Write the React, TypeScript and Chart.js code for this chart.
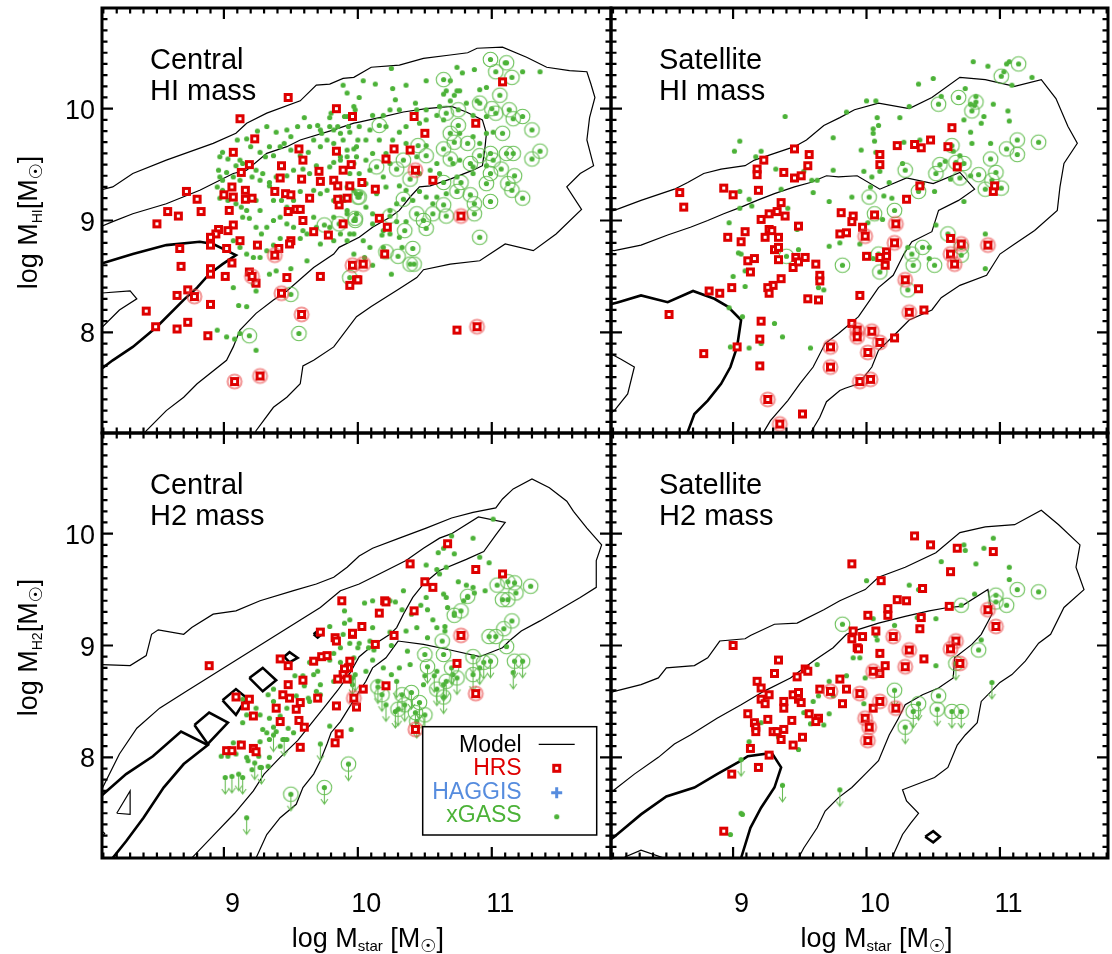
import React, { useEffect, useRef } from 'react';
import { Chart, registerables } from 'chart.js';

Chart.register(...registerables);

type Pt = [number, number];

const FONT = '"Liberation Sans", Arial, Helvetica, sans-serif';
const SYMBOL_FONT = '"DejaVu Sans", "Liberation Sans", sans-serif';
const RED = 'rgb(222,0,0)';
const GREEN = 'rgb(76,178,56)';
const BLUE = 'rgb(86,140,222)';
const RING_GREEN = 'rgba(92,186,72,0.9)';
const ARROW_GREEN = 'rgb(104,188,84)';
const RING_RED = 'rgba(234,72,72,0.55)';

// axis ranges and labelled ticks
const X_RANGE_LEFT: Pt = [8.09, 11.89];
const X_RANGE_RIGHT: Pt = [8.085, 11.81];
const Y_RANGE: Pt = [7.1, 10.9];
const X_TICK_LABELS = [9, 10, 11];
const Y_TICK_LABELS = [8, 9, 10];
const LEGEND_LABELS = ['Model', 'HRS', 'HAGGIS', 'xGASS'];
const LEGEND_COLORS = ['#000', RED, BLUE, GREEN];

// ---------------- Central, HI mass ----------------
const cHiHrs: Pt[] = [
  [9.48,10.10],[9.12,9.91],[9.84,10.00],[9.96,9.93],[9.23,9.73],[9.07,9.61],[9.56,9.64],[9.59,9.54],[9.19,9.50],[9.43,9.49],
  [9.13,9.43],[9.84,9.62],[9.95,9.50],[9.89,9.45],[9.71,9.44],[9.72,9.35],[9.42,9.38],[9.58,9.37],[9.82,9.36],[9.85,9.31],
  [9.06,9.30],[8.72,9.26],[9.16,9.27],[9.94,9.31],[9.00,9.23],[9.38,9.26],[9.46,9.24],[9.50,9.23],[9.64,9.20],[9.07,9.21],
  [9.16,9.19],[9.21,9.20],[9.92,9.20],[8.80,9.19],[8.58,9.08],[8.66,9.04],[8.83,9.08],[9.04,9.09],[8.50,8.97],[9.54,9.10],
  [9.57,9.10],[9.48,9.08],[9.59,9.00],[9.07,8.96],[9.03,8.91],[8.96,8.92],[8.94,8.88],[8.90,8.85],[8.90,8.78],[9.12,8.82],
  [9.25,8.78],[9.50,8.82],[9.49,8.79],[9.67,8.90],[9.78,8.87],[9.86,9.14],[9.85,9.19],[9.89,8.97],[8.67,8.75],[9.02,8.75],
  [9.41,8.75],[8.68,8.59],[8.90,8.57],[8.90,8.52],[9.06,8.62],[9.01,8.50],[9.19,8.54],[9.24,8.44],[9.47,8.49],[9.72,8.50],
  [9.94,8.42],[9.99,8.47],[8.73,8.38],[8.65,8.33],[8.90,8.25],[8.42,8.19],[8.49,8.05],[8.65,8.03],[8.73,8.09],[8.88,7.97],
  [11.08,10.24],[10.42,9.93],[10.88,9.87],[10.50,9.78],[10.27,9.64],[10.39,9.63],[10.21,9.55],[10.56,9.36],[10.03,9.34],[10.13,9.28],
  [10.16,9.02],[10.22,8.94],[10.20,8.70],[10.00,8.47],[10.74,8.02],
];
const cHiHrsRinged: Pt[] = [
  [9.38,8.69],[9.21,8.50],[9.96,8.60],[9.43,8.35],[8.78,8.32],[9.58,8.16],[9.08,7.56],[9.27,7.61],[10.43,9.45],[10.77,9.04],
  [10.04,8.61],[10.89,8.05],
];
const cHiGass: Pt[] = [
  [9.92,10.14],[9.98,9.99],[9.80,9.96],[9.79,9.92],[9.90,9.93],[9.60,9.92],[9.55,9.84],[9.47,9.81],[9.39,9.79],[9.32,9.84],
  [9.25,9.80],[9.17,9.73],[9.10,9.72],[9.20,9.66],[9.34,9.66],[9.50,9.75],[9.64,9.84],[9.70,9.85],[9.72,9.81],[9.73,9.78],
  [9.79,9.84],[9.82,9.81],[9.85,9.84],[9.93,9.84],[8.99,9.61],[8.97,9.57],[9.03,9.55],[9.12,9.54],[9.09,9.49],[9.14,9.51],
  [9.27,9.61],[9.31,9.57],[9.37,9.58],[9.42,9.66],[9.45,9.69],[9.50,9.63],[9.57,9.58],[9.63,9.61],[9.67,9.72],[9.72,9.66],
  [9.77,9.72],[9.82,9.69],[9.89,9.72],[9.97,9.64],[10.00,9.72],[8.96,9.45],[9.02,9.43],[8.97,9.39],[8.99,9.36],[9.07,9.39],
  [9.12,9.36],[9.24,9.45],[9.29,9.42],[9.21,9.39],[9.27,9.36],[9.34,9.34],[9.39,9.39],[9.47,9.40],[9.52,9.45],[9.59,9.46],
  [9.64,9.42],[9.69,9.49],[9.79,9.48],[9.82,9.52],[9.87,9.54],[9.92,9.57],[9.99,9.57],[8.95,9.30],[8.99,9.27],[8.97,9.20],
  [9.03,9.18],[9.09,9.15],[9.13,9.12],[9.17,9.09],[9.24,9.18],[9.27,9.09],[9.34,9.31],[9.37,9.18],[9.43,9.18],[9.47,9.12],
  [9.52,9.18],[9.57,9.26],[9.67,9.27],[9.72,9.24],[9.77,9.27],[9.82,9.18],[9.87,9.21],[9.97,9.27],[10.02,9.24],[9.14,9.03],
  [9.19,9.02],[9.24,8.94],[9.28,8.88],[9.32,8.94],[9.37,9.00],[9.42,9.03],[9.47,8.97],[9.52,8.94],[9.59,8.91],[9.67,9.03],
  [9.69,8.94],[9.79,8.94],[9.82,9.03],[9.92,9.06],[9.97,9.00],[9.07,8.82],[9.12,8.76],[9.17,8.70],[9.22,8.67],[9.27,8.67],
  [9.32,8.73],[9.37,8.78],[9.42,8.84],[9.57,8.84],[9.62,8.88],[9.72,8.79],[9.82,8.82],[9.87,8.88],[9.92,8.82],[9.97,8.88],
  [9.07,8.40],[9.11,8.24],[9.17,8.23],[9.22,8.43],[9.24,8.37],[9.34,8.52],[9.39,8.55],[9.50,8.57],[9.62,8.64],[8.95,8.02],
  [9.02,7.96],[9.08,7.94],[9.24,7.84],[9.12,7.99],
  [11.10,10.41],[11.23,10.33],[11.36,10.33],[10.25,10.36],[10.87,10.35],[10.74,10.37],[10.78,10.32],[9.89,10.21],[10.04,10.25],[10.13,10.22],
  [10.26,10.18],[10.36,10.21],[10.51,10.25],[10.69,10.25],[10.74,10.16],[10.66,10.16],[10.64,10.13],[10.72,10.12],[10.76,10.16],[10.91,10.17],
  [10.96,10.19],[10.28,10.08],[10.43,10.05],[10.01,10.10],[9.97,10.02],[9.92,9.93],[10.11,9.94],[10.19,9.94],[10.24,9.99],[10.31,9.99],
  [10.44,9.99],[10.51,9.99],[10.61,10.02],[10.81,10.05],[10.89,10.07],[10.96,9.93],[10.86,9.94],[10.69,10.07],[9.87,9.78],[9.94,9.79],
  [10.01,9.84],[10.09,9.81],[10.21,9.84],[10.31,9.79],[10.36,9.84],[10.46,9.87],[10.51,9.90],[10.59,9.94],[10.64,9.90],[10.76,9.78],
  [10.86,9.75],[10.91,9.69],[10.96,9.78],[11.01,9.79],[10.51,9.67],[10.36,9.69],[10.26,9.72],[10.16,9.72],[10.06,9.72],[9.99,9.66],
  [9.92,9.63],[10.11,9.60],[10.21,9.60],[9.87,9.57],[9.97,9.51],[10.06,9.54],[10.24,9.51],[10.44,9.57],[10.59,9.51],[10.71,9.51],
  [10.76,9.54],[10.96,9.49],[10.86,9.48],[9.94,9.42],[10.01,9.42],[10.09,9.45],[10.19,9.39],[10.46,9.42],[10.54,9.45],[10.61,9.42],
  [10.74,9.39],[10.86,9.42],[9.92,9.30],[9.99,9.24],[10.06,9.33],[10.14,9.24],[10.21,9.30],[10.31,9.31],[10.36,9.27],[10.46,9.26],
  [10.51,9.21],[10.59,9.21],[10.66,9.24],[9.90,9.18],[9.92,9.09],[9.99,9.06],[10.06,9.12],[10.11,9.06],[10.24,9.09],[10.29,9.15],
  [10.41,9.18],[10.56,9.15],[10.11,8.97],[10.19,8.91],[10.29,8.99],[10.36,8.99],[10.24,8.88],[10.31,8.85],[9.94,8.88],[10.04,8.82],
  [10.09,8.76],[10.18,8.87],[10.19,8.76],[10.33,8.76],[10.25,8.52],[10.11,8.60],[10.05,8.67],[9.97,8.70],
];
const cHiGassRinged: Pt[] = [
  [9.75,8.96],[9.86,8.97],[9.98,9.02],[9.50,8.34],[9.19,7.97],[9.56,7.99],[9.94,8.49],[10.00,9.21],
  [10.99,10.44],[11.11,10.41],[11.03,10.33],[11.15,10.28],[10.64,10.26],[11.06,10.12],[10.66,9.96],[10.75,9.99],[10.91,10.05],[11.00,10.00],
  [11.03,9.96],[11.13,9.99],[11.16,9.91],[11.23,9.93],[11.30,9.81],[10.16,9.85],[10.75,9.85],[10.69,9.78],[10.82,9.69],[11.08,9.78],
  [10.72,9.70],[10.64,9.64],[10.45,9.67],[10.14,9.48],[10.34,9.54],[10.51,9.58],[10.69,9.55],[10.84,9.51],[10.91,9.58],[10.99,9.60],
  [11.01,9.54],[11.11,9.60],[11.16,9.60],[11.30,9.55],[11.36,9.62],[10.29,9.46],[10.39,9.37],[10.64,9.34],[10.77,9.34],[10.99,9.42],
  [11.07,9.46],[11.17,9.40],[11.12,9.33],[10.96,9.33],[11.15,9.27],[11.23,9.20],[10.74,9.26],[10.84,9.23],[10.87,9.15],[10.99,9.17],
  [10.34,9.19],[10.01,9.21],[10.64,9.14],[10.44,9.06],[10.56,9.06],[10.66,9.04],[10.87,9.06],[10.24,9.04],[9.98,9.00],[10.49,9.00],
  [10.51,8.93],[10.35,8.91],[10.91,8.85],[10.21,8.72],[10.30,8.68],[10.39,8.61],[10.42,8.61],[10.41,8.75],
];
const cHiOuter: Pt[] = [
  [8.0,9.22],[8.07,9.27],[8.17,9.30],[8.32,9.42],[8.57,9.54],[8.92,9.69],[9.09,9.78],[9.17,9.87],[9.32,9.96],[9.57,10.07],
  [9.69,10.21],[9.79,10.22],[9.89,10.27],[9.97,10.28],[10.10,10.37],[10.31,10.39],[10.49,10.45],[10.69,10.48],[10.82,10.50],[10.89,10.54],
  [11.08,10.55],[11.26,10.46],[11.41,10.37],[11.58,10.34],[11.71,10.33],[11.74,10.22],[11.77,10.10],[11.73,9.92],[11.71,9.72],[11.76,9.49],
  [11.66,9.42],[11.56,9.30],[11.67,9.10],[11.48,8.88],[11.31,8.73],[11.10,8.79],[10.91,8.64],[10.69,8.61],[10.49,8.56],[10.44,8.49],
  [10.31,8.39],[10.10,8.23],[9.99,8.14],[9.82,7.87],[9.67,7.75],[9.59,7.70],[9.57,7.54],[9.47,7.42],[9.37,7.33],[9.24,7.12],[9.22,7.05],
];
const cHiMiddle: Pt[] = [
  [8.0,8.91],[8.07,8.94],[8.17,8.99],[8.32,9.06],[8.57,9.15],[8.82,9.27],[9.07,9.42],[9.17,9.45],[9.32,9.60],[9.47,9.66],
  [9.57,9.72],[9.82,9.81],[9.97,9.87],[10.01,9.88],[10.16,9.92],[10.34,9.97],[10.51,10.00],[10.70,10.02],[10.81,9.97],[10.93,9.90],
  [10.96,9.78],[10.95,9.66],[10.93,9.49],[10.86,9.45],[10.69,9.37],[10.54,9.31],[10.46,9.30],[10.39,9.21],[10.31,9.09],[10.24,9.03],
  [10.11,8.94],[10.01,8.85],[9.86,8.76],[9.82,8.70],[9.67,8.58],[9.47,8.37],[9.37,8.29],[9.24,8.17],[9.12,8.02],[9.07,7.87],
  [9.02,7.75],[8.80,7.54],[8.70,7.42],[8.57,7.30],[8.42,7.12],[8.38,7.05],
];
const cHiThick: Pt[] = [
  [8.0,8.62],[8.07,8.61],[8.32,8.70],[8.57,8.78],[8.82,8.81],[8.92,8.79],[9.09,8.69],[8.99,8.61],[8.89,8.52],[8.80,8.40],
  [8.70,8.29],[8.50,8.05],[8.32,7.87],[8.17,7.75],[8.07,7.66],[8.0,7.60],
];
const cHiLoop: Pt[] = [[8.0,8.35],[8.07,8.35],[8.30,8.37],[8.35,8.30],[8.22,8.20],[8.07,8.02],[8.0,7.96]];

// ---------------- Satellite, HI mass ----------------
const sHiHrs: Pt[] = [
  [9.46,9.64],[9.57,9.59],[9.23,9.54],[9.18,9.46],[9.18,9.41],[9.38,9.43],[9.46,9.38],[9.51,9.40],[9.56,9.49],[8.93,9.29],
  [9.00,9.23],[9.19,9.27],[8.60,9.25],[8.63,9.12],[9.36,9.16],[9.21,9.01],[9.27,9.06],[9.33,9.08],[9.39,9.04],[9.09,8.90],
  [8.96,8.85],[9.06,8.81],[9.24,8.85],[9.27,8.92],[9.29,8.91],[9.34,8.85],[9.49,8.95],[9.31,8.74],[9.34,8.76],[9.34,8.65],
  [9.16,8.66],[9.11,8.64],[9.45,8.58],[9.47,8.67],[9.54,8.67],[9.49,8.63],[9.62,8.61],[9.13,8.54],[9.36,8.48],[9.30,8.42],
  [9.26,8.40],[9.27,8.35],[9.65,8.51],[9.65,8.46],[8.99,8.40],[8.90,8.35],[8.82,8.37],[9.56,8.30],[9.64,8.29],[9.81,9.07],
  [9.90,9.04],[9.80,8.88],[9.85,8.89],[8.52,8.16],[9.21,8.10],[9.20,7.94],[9.03,7.87],[8.78,7.81],[9.20,7.70],[9.89,8.08],
  [9.52,7.27],
  [10.64,9.83],[10.23,9.67],[10.36,9.68],[10.41,9.65],[10.48,9.72],[10.61,9.66],[10.10,9.59],[10.10,9.50],[10.68,9.48],[10.40,9.31],
  [10.30,9.19],[10.95,9.26],[10.96,9.31],[9.89,8.99],[9.97,8.94],[10.06,9.05],[10.00,8.68],[10.15,8.72],[10.15,8.68],[10.10,8.67],
  [10.14,8.60],[10.63,8.84],[9.95,8.33],[10.39,8.39],[10.43,8.20],[10.21,7.95],
];
const sHiHrsRinged: Pt[] = [
  [9.73,7.87],[9.73,7.69],[9.26,7.40],[9.35,7.18],[9.99,8.86],[10.22,8.97],[10.21,8.80],[10.71,8.79],[10.63,8.70],[10.66,8.61],
  [10.91,8.78],[10.29,8.47],[10.32,8.18],[9.93,8.02],[9.93,7.96],[10.04,8.01],[10.10,7.91],[10.01,7.82],[9.95,7.56],[10.03,7.58],
];
const sHiGass: Pt[] = [
  [9.39,9.93],[9.85,9.97],[9.75,9.74],[9.05,9.71],[9.01,9.62],[9.21,9.62],[9.17,9.57],[9.32,9.46],[9.53,9.44],[9.75,9.45],
  [9.59,9.36],[9.63,9.36],[9.05,9.26],[9.36,9.28],[9.60,9.25],[9.12,9.19],[9.14,9.13],[9.05,9.11],[9.41,9.11],[9.72,9.17],
  [8.97,8.98],[9.90,8.98],[9.48,8.92],[9.80,8.80],[9.72,8.77],[9.04,8.71],[9.06,8.70],[9.49,8.74],[9.33,8.73],[9.09,8.55],
  [9.00,8.50],[9.09,8.41],[9.64,8.40],[9.68,8.38],[9.63,8.29],[8.97,8.22],[9.07,8.14],[9.31,8.08],[9.37,7.96],[8.98,7.87],
  [9.12,7.86],[9.21,7.90],[9.58,7.86],
  [10.80,10.42],[10.91,10.38],[11.05,10.40],[11.07,10.42],[11.03,10.33],[11.09,10.21],[11.24,10.28],[10.39,10.22],[10.50,10.27],[10.00,10.07],
  [10.07,10.07],[10.32,10.02],[10.56,10.11],[10.74,10.18],[10.08,9.92],[10.25,9.92],[10.05,9.82],[10.09,9.85],[10.05,9.78],[10.78,10.04],
  [10.81,10.03],[10.82,10.11],[10.95,10.04],[11.06,9.98],[11.07,9.89],[10.73,9.90],[10.88,9.93],[10.86,9.87],[10.78,9.79],[10.79,9.69],
  [10.93,9.69],[10.06,9.71],[10.28,9.70],[9.96,9.63],[10.07,9.61],[10.40,9.72],[10.65,9.62],[10.70,9.58],[10.59,9.53],[10.27,9.51],
  [9.98,9.44],[10.04,9.39],[10.10,9.44],[10.17,9.34],[10.63,9.37],[10.78,9.40],[10.51,9.26],[10.03,9.30],[9.89,9.21],[10.13,9.22],
  [10.19,9.20],[10.73,9.17],[10.42,9.33],[10.12,9.01],[10.01,8.98],[10.52,8.96],[9.95,8.79],[10.31,8.76],[10.47,8.76],[10.05,8.66],
  [10.47,8.66],[10.89,8.88],[10.89,8.57],
];
const sHiGassRinged: Pt[] = [
  [9.82,8.60],[9.40,8.68],[11.14,10.40],[11.01,10.29],[10.54,10.04],[10.69,10.10],[10.82,10.06],[10.79,9.98],[11.13,9.72],[11.29,9.70],
  [11.13,9.59],[11.05,9.64],[10.93,9.55],[10.64,9.67],[10.73,9.51],[10.67,9.52],[10.55,9.50],[10.52,9.42],[10.29,9.45],[10.70,9.38],
  [10.84,9.41],[10.97,9.43],[10.94,9.36],[10.89,9.28],[11.01,9.29],[10.39,9.26],[10.06,9.06],[10.21,9.09],[10.61,8.88],[10.71,8.76],
  [10.71,8.69],[10.42,8.76],[10.34,8.70],[10.35,8.60],[10.51,8.60],[10.09,8.70],[10.10,8.54],[10.31,8.38],[10.02,9.21],
];
const sHiOuter: Pt[] = [
  [8.05,9.08],[8.11,9.09],[8.31,9.18],[8.56,9.28],[8.66,9.34],[8.78,9.42],[8.91,9.46],[9.09,9.49],[9.16,9.54],[9.31,9.60],
  [9.46,9.66],[9.55,9.72],[9.68,9.85],[9.80,9.92],[9.91,9.99],[10.09,10.05],[10.32,10.00],[10.49,10.10],[10.70,10.28],[10.89,10.26],
  [11.11,10.20],[11.31,10.26],[11.42,10.09],[11.51,9.84],[11.58,9.69],[11.48,9.51],[11.45,9.30],[11.43,9.09],[11.26,8.91],[11.11,8.79],
  [11.00,8.70],[10.90,8.51],[10.70,8.42],[10.56,8.31],[10.49,8.20],[10.32,8.11],[10.22,7.99],[10.09,7.84],[10.04,7.69],[9.94,7.54],
  [9.84,7.50],[9.80,7.48],[9.70,7.38],[9.65,7.24],[9.59,7.12],[9.57,7.05],
];
const sHiMiddle: Pt[] = [
  [8.05,8.74],[8.11,8.73],[8.31,8.78],[8.51,8.87],[8.68,8.94],[8.81,9.00],[8.93,9.06],[9.06,9.12],[9.18,9.18],[9.31,9.24],
  [9.46,9.30],[9.58,9.34],[9.70,9.40],[9.79,9.39],[9.93,9.40],[10.10,9.28],[10.30,9.38],[10.50,9.33],[10.70,9.43],[10.81,9.28],
  [10.69,9.18],[10.54,9.09],[10.49,8.90],[10.34,8.81],[10.28,8.70],[10.20,8.51],[10.09,8.40],[9.94,8.14],[9.79,7.99],[9.69,7.90],
  [9.60,7.69],[9.50,7.54],[9.41,7.39],[9.28,7.21],[9.23,7.11],[9.20,7.05],
];
const sHiThick: Pt[] = [
  [8.05,8.24],[8.14,8.27],[8.31,8.33],[8.51,8.27],[8.70,8.37],[8.86,8.30],[8.96,8.23],[9.06,8.11],[9.03,7.87],[8.98,7.69],
  [8.91,7.54],[8.81,7.39],[8.71,7.27],[8.66,7.11],[8.64,7.05],
];
const sHiLoop: Pt[] = [[8.05,7.83],[8.16,7.76],[8.26,7.69],[8.21,7.45],[8.11,7.30],[8.05,7.25]];

// ---------------- Central, H2 mass ----------------
const cH2Hrs: Pt[] = [
  [9.88,9.40],[8.89,8.82],[9.72,9.12],[9.83,9.07],[9.84,9.04],[9.96,9.10],[9.73,8.90],[9.77,8.91],[9.67,8.86],[9.42,8.88],
  [9.48,8.82],[9.94,8.86],[9.93,8.80],[9.90,8.79],[9.89,8.74],[9.85,8.70],[9.92,8.70],[9.48,8.65],[9.59,8.69],[9.44,8.56],
  [9.49,8.53],[9.09,8.54],[9.19,8.52],[9.16,8.46],[9.57,8.49],[9.54,8.43],[9.22,8.37],[9.39,8.44],[9.42,8.32],[9.70,8.53],
  [9.84,8.46],[9.56,8.33],[9.60,8.27],[9.86,8.21],[9.83,8.13],[9.02,8.06],[9.06,8.06],[9.13,8.11],[9.22,8.08],[9.24,8.05],
  [9.57,8.09],[9.99,8.45],
  [10.67,9.91],[10.39,9.73],[10.88,9.68],[11.08,9.64],[10.50,9.57],[10.56,9.52],[10.20,9.40],[10.21,9.39],[10.16,9.29],[10.42,9.31],
  [10.03,9.17],[9.96,9.11],[10.27,9.09],[10.13,9.01],[10.04,8.61],[10.21,8.64],[10.74,8.84],
];
const cH2HrsRinged: Pt[] = [[9.97,8.53],[10.77,9.09],[10.88,8.57],[10.43,8.25]];
const cH2Gass: Pt[] = [
  [9.90,9.31],[9.94,9.23],[9.90,9.20],[9.79,9.17],[9.89,9.10],[9.94,9.02],[9.87,8.98],[10.00,8.98],[9.82,8.93],[9.79,8.87],
  [9.87,8.85],[9.64,8.85],[9.70,8.77],[9.67,8.74],[9.59,8.73],[9.53,8.73],[9.60,8.64],[9.72,8.65],[9.82,8.68],[9.96,8.65],
  [9.69,8.59],[9.72,8.56],[9.63,8.53],[9.64,8.50],[9.54,8.55],[9.37,8.61],[9.33,8.56],[9.47,8.44],[9.24,8.44],[9.27,8.38],
  [9.17,8.38],[9.14,8.31],[9.34,8.35],[9.42,8.37],[9.29,8.25],[9.37,8.27],[9.39,8.23],[9.32,8.22],[9.48,8.26],[9.52,8.22],
  [9.44,8.16],[9.34,8.16],[9.27,8.14],[9.42,8.10],[9.34,8.00],[9.26,8.01],[9.17,8.00],[9.09,8.03],[9.03,8.01],[8.98,8.01],
  [9.12,8.13],[9.07,8.13],[9.18,7.97],[9.33,7.92],[9.27,7.91],[9.21,7.89],[9.79,8.28],[9.14,8.52],[9.37,8.50],[9.47,8.16],
  [11.01,10.13],[10.70,9.98],[10.86,9.96],[10.60,9.83],[10.64,9.87],[10.72,9.82],[10.91,9.79],[10.98,9.74],[10.51,9.72],[10.59,9.68],
  [10.66,9.70],[10.75,9.57],[10.81,9.54],[10.86,9.52],[10.87,9.47],[10.95,9.49],[10.61,9.64],[10.34,9.49],[10.51,9.43],[10.47,9.36],
  [10.52,9.32],[10.64,9.46],[10.66,9.43],[10.24,9.40],[10.28,9.39],[10.11,9.40],[10.05,9.38],[10.33,9.32],[10.40,9.28],[10.56,9.23],
  [10.67,9.34],[10.79,9.40],[10.82,9.43],[10.72,9.29],[10.44,9.16],[10.59,9.16],[10.65,9.17],[10.65,9.13],[10.11,9.16],[10.24,9.12],
  [10.09,9.04],[10.01,9.02],[10.08,8.98],[10.12,8.96],[10.25,9.00],[10.37,8.95],[10.52,9.07],[10.36,9.13],[9.97,8.89],[10.11,8.87],
  [10.19,8.80],[10.31,8.80],[10.25,8.74],[10.50,8.73],[10.59,8.77],[10.06,8.77],[10.15,8.68],[9.95,8.68],[9.95,8.25],[10.39,8.83],
  [10.49,8.65],[10.71,8.74],
];
const cH2GassLimit: Pt[] = [
  [9.01,7.82],[9.06,7.83],[9.11,7.85],[9.14,7.82],[9.23,7.95],[9.28,7.91],[9.37,8.20],[9.45,8.16],[9.17,7.46],[9.72,8.12],
  [9.96,8.71],[9.98,8.74],[10.29,8.68],[10.21,8.47],[10.28,8.41],[10.57,8.73],[10.64,8.65],[10.91,8.80],[11.16,8.76],
];
const cH2GassRinged: Pt[] = [
  [11.04,9.54],[11.12,9.57],[11.17,9.56],[11.18,9.47],[11.08,9.41],[11.12,9.41],[11.29,9.53],[10.82,9.44],[10.72,9.27],[10.77,9.31],
  [11.15,9.22],[11.09,9.15],[10.98,9.08],[11.03,9.08],[10.63,9.04],[10.64,8.92],[10.50,8.92],[11.11,8.99],
];
const cH2GassRingedLimit: Pt[] = [
  [10.52,8.81],[10.86,8.90],[10.94,8.85],[10.99,8.86],[11.17,8.86],[11.23,8.86],[10.70,8.80],[10.74,8.71],[10.66,8.68],[10.59,8.61],
  [10.64,8.54],[10.86,8.74],[10.15,8.63],[10.18,8.56],[10.33,8.56],[10.40,8.58],[10.46,8.49],[10.35,8.47],[10.30,8.43],[10.43,8.40],
  [10.50,8.38],[10.44,8.32],[9.50,7.67],[9.75,7.73],[9.93,7.94],
];
const cH2Outer: Pt[] = [
  [8.0,8.83],[8.07,8.83],[8.30,8.82],[8.42,8.91],[8.46,9.10],[8.51,9.14],[8.70,9.10],[8.76,9.16],[8.92,9.28],[9.09,9.31],
  [9.27,9.40],[9.52,9.49],[9.69,9.55],[9.82,9.61],[9.92,9.70],[10.01,9.80],[10.11,9.87],[10.31,9.96],[10.51,10.05],[10.70,10.14],
  [10.86,10.19],[11.03,10.23],[11.08,10.31],[11.16,10.40],[11.30,10.49],[11.43,10.41],[11.56,10.29],[11.61,10.20],[11.71,10.05],[11.82,9.90],
  [11.78,9.76],[11.78,9.52],[11.66,9.43],[11.36,9.22],[11.22,9.13],[11.13,9.04],[11.08,8.98],[10.91,8.90],[10.69,8.96],[10.49,9.01],
  [10.30,9.04],[10.21,8.89],[10.11,8.80],[10.06,8.68],[10.01,8.59],[9.87,8.32],[9.80,8.22],[9.77,8.12],[9.72,7.97],[9.67,7.85],
  [9.59,7.73],[9.54,7.58],[9.42,7.46],[9.32,7.31],[9.24,7.10],[9.22,7.05],
];
const cH2Middle: Pt[] = [
  [8.07,7.67],[8.22,8.03],[8.35,8.26],[8.52,8.44],[8.72,8.59],[8.92,8.74],[9.12,8.89],[9.32,9.04],[9.52,9.19],[9.72,9.34],
  [9.87,9.49],[10.01,9.55],[10.16,9.64],[10.36,9.76],[10.49,9.87],[10.61,9.96],[10.70,10.00],[10.90,10.15],[11.10,10.10],[11.03,9.99],
  [10.94,9.84],[10.81,9.77],[10.61,9.67],[10.49,9.55],[10.41,9.43],[10.34,9.28],[10.29,9.16],[10.24,9.10],[10.11,9.00],[10.01,8.90],
  [9.94,8.75],[9.85,8.60],[9.75,8.45],[9.65,8.30],[9.55,8.15],[9.42,8.00],[9.30,7.85],[9.22,7.70],[9.08,7.50],[8.92,7.30],[8.76,7.10],[8.74,7.05],
];
const cH2Thick: Pt[] = [
  [8.0,7.50],[8.07,7.64],[8.27,7.85],[8.47,8.01],[8.68,8.23],[8.88,8.11],[8.70,7.94],[8.55,7.73],[8.40,7.46],[8.27,7.25],[8.17,7.10],[8.15,7.05],
];
const cH2Diamond1: Pt[] = [[8.78,8.29],[8.89,8.40],[9.03,8.31],[8.88,8.12],[8.78,8.29]];
const cH2Diamond2: Pt[] = [[8.99,8.51],[9.09,8.61],[9.17,8.53],[9.09,8.38],[8.99,8.51]];
const cH2Diamond3: Pt[] = [[9.19,8.71],[9.29,8.80],[9.39,8.69],[9.29,8.59],[9.19,8.71]];
const cH2Diamond4: Pt[] = [[9.45,8.90],[9.49,8.94],[9.55,8.89],[9.49,8.85],[9.45,8.90]];
const cH2Diamond5: Pt[] = [[9.67,9.10],[9.70,9.13],[9.73,9.10],[9.70,9.07],[9.67,9.10]];
const cH2Triangle: Pt[] = [[8.20,7.50],[8.30,7.70],[8.30,7.49],[8.20,7.50]];
const cH2Corner: Pt[] = [[8.05,7.38],[8.11,7.32],[8.05,7.22]];

// ---------------- Satellite, H2 mass ----------------
const sH2Hrs: Pt[] = [
  [9.89,9.73],[9.00,9.00],[9.34,8.87],[9.31,8.75],[9.54,8.79],[9.56,8.77],[9.48,8.72],[9.18,8.68],[9.21,8.62],[9.27,8.56],
  [9.21,8.52],[9.24,8.48],[9.38,8.50],[9.38,8.44],[9.45,8.56],[9.49,8.58],[9.49,8.52],[9.51,8.49],[9.65,8.61],[9.80,8.70],
  [9.85,8.61],[9.82,8.48],[9.11,8.39],[9.16,8.31],[9.17,8.27],[9.17,8.23],[9.26,8.34],[9.30,8.23],[9.38,8.25],[9.44,8.33],
  [9.33,8.23],[9.36,8.16],[9.52,8.18],[9.45,8.11],[9.57,8.39],[9.64,8.35],[9.62,8.32],[9.13,8.08],[9.27,8.02],[9.19,7.91],
  [8.99,7.85],[8.93,7.34],[9.90,9.13],[9.89,9.06],[9.93,8.98],
  [10.36,9.98],[10.48,9.90],[10.68,9.87],[10.95,9.84],[10.63,9.66],[10.11,9.58],[10.42,9.51],[10.23,9.41],[10.30,9.40],[10.16,9.33],
  [10.16,9.27],[10.01,9.27],[10.62,9.35],[10.41,9.25],[10.40,9.15],[10.07,9.13],[9.97,9.08],[9.94,8.97],[10.10,8.93],[10.43,8.88],
  [10.14,8.82],[10.10,8.75],[10.05,8.44],
];
const sH2HrsRinged: Pt[] = [
  [9.73,8.59],[10.91,9.32],[10.97,9.17],[10.20,9.08],[10.32,8.96],[10.29,8.81],[10.05,8.77],[10.67,9.04],[10.63,8.97],[10.70,8.84],
  [9.95,8.57],[10.10,8.50],[10.22,8.44],[9.99,8.35],[10.02,8.27],[10.01,8.15],
];
const sH2Gass: Pt[] = [
  [9.63,8.83],[9.90,8.89],[9.85,8.73],[9.72,8.68],[9.64,8.55],[9.75,8.55],[9.60,8.50],[9.53,8.40],[9.72,8.39],[9.58,8.30],
  [9.68,8.29],[9.21,8.31],[9.34,8.18],[9.12,8.14],[9.49,8.07],[9.06,7.50],[9.07,7.49],[8.98,7.31],
  [10.95,9.96],[10.73,9.90],[10.74,9.85],[10.88,9.87],[10.56,9.75],[10.82,9.73],[11.07,9.70],[11.07,9.59],[10.00,9.58],[10.32,9.54],
  [10.39,9.50],[10.81,9.46],[10.05,9.24],[10.38,9.25],[10.52,9.24],[10.21,9.18],[10.07,9.09],[10.08,9.05],[10.09,8.91],[9.95,8.89],
  [10.86,9.05],[10.52,8.82],[9.99,8.71],[9.98,8.48],
];
const sH2GassLimit: Pt[] = [[9.06,7.98],[9.37,7.75],[9.80,7.71],[10.94,8.67]];
const sH2GassRinged: Pt[] = [
  [9.82,9.19],[11.13,9.50],[11.29,9.48],[10.97,9.45],[10.97,9.39],[11.05,9.36],[10.71,9.36],[10.84,8.96],[10.54,8.55],
];
const sH2GassRingedLimit: Pt[] = [
  [10.21,8.60],[10.39,8.48],[10.35,8.41],[10.53,8.43],[10.64,8.41],[10.71,8.41],[10.29,8.27],[10.67,8.84],
];
const sH2Outer: Pt[] = [
  [8.05,8.57],[8.11,8.59],[8.31,8.65],[8.44,8.71],[8.50,8.80],[8.71,8.82],[8.81,8.89],[8.90,9.04],[9.09,9.06],[9.13,9.09],
  [9.31,9.19],[9.48,9.20],[9.68,9.32],[9.80,9.40],[9.93,9.47],[9.99,9.50],[10.09,9.61],[10.29,9.70],[10.52,9.83],[10.70,10.01],
  [10.89,10.06],[11.11,10.08],[11.31,10.21],[11.44,10.08],[11.60,9.90],[11.57,9.70],[11.63,9.50],[11.48,9.34],[11.38,9.10],[11.29,9.02],
  [11.19,8.86],[11.09,8.74],[11.00,8.67],[10.86,8.50],[10.83,8.31],[10.74,8.20],[10.68,8.11],[10.61,7.91],[10.51,7.82],[10.27,7.71],
  [10.30,7.61],[10.39,7.50],[10.33,7.41],[10.27,7.31],[10.19,7.10],[10.17,7.05],
];
const sH2Middle: Pt[] = [
  [8.05,7.66],[8.11,7.71],[8.26,7.85],[8.44,8.00],[8.56,8.12],[8.68,8.20],[8.88,8.35],[9.06,8.47],[9.23,8.59],[9.43,8.71],
  [9.60,8.86],[9.75,8.98],[9.85,9.10],[9.93,9.14],[10.09,9.20],[10.29,9.26],[10.47,9.31],[10.61,9.34],[10.71,9.35],[10.91,9.50],
  [10.94,9.28],[10.86,9.10],[10.79,9.01],[10.66,8.89],[10.65,8.71],[10.54,8.62],[10.42,8.56],[10.29,8.47],[10.24,8.35],[10.17,8.20],
  [10.09,7.97],[9.99,7.85],[9.89,7.73],[9.79,7.64],[9.69,7.52],[9.63,7.37],[9.53,7.19],[9.49,7.10],[9.47,7.05],
];
const sH2Thick: Pt[] = [
  [8.05,7.24],[8.11,7.29],[8.31,7.49],[8.50,7.65],[8.71,7.73],[8.88,7.85],[9.06,7.97],[9.11,8.01],[9.29,8.04],[9.36,7.91],
  [9.31,7.73],[9.21,7.55],[9.13,7.37],[9.06,7.10],[9.05,7.05],
];
const sH2Bottom: Pt[] = [[8.17,7.05],[8.19,7.11],[8.31,7.17],[8.48,7.10],[8.50,7.05]];
const sH2Diamond: Pt[] = [[10.44,7.29],[10.50,7.34],[10.55,7.29],[10.50,7.24],[10.44,7.29]];

interface Contour { pts: Pt[]; thick: boolean }
interface Panel {
  key: string;
  lines: [string, string];
  xRange: Pt;
  pad: { left: number; top: number; right: number; bottom: number };
  yLabels: boolean;
  xLabels: boolean;
  yTitle?: string;
  xTitle?: boolean;
  legend?: boolean;
  hrs: Pt[];
  hrsRinged: Pt[];
  gass: Pt[];
  gassRinged: Pt[];
  gassLimit: Pt[];
  gassRingedLimit: Pt[];
  contours: Contour[];
}

const PANELS: Panel[] = [
  {
    key: 'central-hi', lines: ['Central', 'HI mass'], xRange: X_RANGE_LEFT,
    pad: { left: 102, top: 8, right: 501, bottom: 521 }, yLabels: true, xLabels: false, yTitle: 'HI',
    hrs: cHiHrs, hrsRinged: cHiHrsRinged, gass: cHiGass, gassRinged: cHiGassRinged, gassLimit: [], gassRingedLimit: [],
    contours: [
      { pts: cHiOuter, thick: false }, { pts: cHiMiddle, thick: false },
      { pts: cHiThick, thick: true }, { pts: cHiLoop, thick: false },
    ],
  },
  {
    key: 'satellite-hi', lines: ['Satellite', 'HI mass'], xRange: X_RANGE_RIGHT,
    pad: { left: 611, top: 8, right: 2, bottom: 521 }, yLabels: false, xLabels: false,
    hrs: sHiHrs, hrsRinged: sHiHrsRinged, gass: sHiGass, gassRinged: sHiGassRinged, gassLimit: [], gassRingedLimit: [],
    contours: [
      { pts: sHiOuter, thick: false }, { pts: sHiMiddle, thick: false },
      { pts: sHiThick, thick: true }, { pts: sHiLoop, thick: false },
    ],
  },
  {
    key: 'central-h2', lines: ['Central', 'H2 mass'], xRange: X_RANGE_LEFT,
    pad: { left: 102, top: 433, right: 501, bottom: 96 }, yLabels: true, xLabels: true, yTitle: 'H2', xTitle: true, legend: true,
    hrs: cH2Hrs, hrsRinged: cH2HrsRinged, gass: cH2Gass, gassRinged: cH2GassRinged, gassLimit: cH2GassLimit, gassRingedLimit: cH2GassRingedLimit,
    contours: [
      { pts: cH2Outer, thick: false }, { pts: cH2Middle, thick: false }, { pts: cH2Thick, thick: true },
      { pts: cH2Diamond1, thick: true }, { pts: cH2Diamond2, thick: true }, { pts: cH2Diamond3, thick: true },
      { pts: cH2Diamond4, thick: true }, { pts: cH2Diamond5, thick: true },
      { pts: cH2Triangle, thick: false }, { pts: cH2Corner, thick: false },
    ],
  },
  {
    key: 'satellite-h2', lines: ['Satellite', 'H2 mass'], xRange: X_RANGE_RIGHT,
    pad: { left: 611, top: 433, right: 2, bottom: 96 }, yLabels: false, xLabels: true, xTitle: true,
    hrs: sH2Hrs, hrsRinged: sH2HrsRinged, gass: sH2Gass, gassRinged: sH2GassRinged, gassLimit: sH2GassLimit, gassRingedLimit: sH2GassRingedLimit,
    contours: [
      { pts: sH2Outer, thick: false }, { pts: sH2Middle, thick: false }, { pts: sH2Thick, thick: true },
      { pts: sH2Bottom, thick: false }, { pts: sH2Diamond, thick: true },
    ],
  },
];

// ---------------- marker sprites ----------------
type Draw = (g: CanvasRenderingContext2D, cx: number, cy: number) => void;
let sprites: Record<string, HTMLCanvasElement> | null = null;

function makeSprite(w: number, h: number, draw: Draw): HTMLCanvasElement {
  const c = document.createElement('canvas');
  c.width = w;
  c.height = h;
  const g = c.getContext('2d') as CanvasRenderingContext2D;
  draw(g, w / 2, h / 2);
  return c;
}

const drawSquare: Draw = (g, cx, cy) => {
  g.fillStyle = RED;
  g.fillRect(cx - 4.5, cy - 4.5, 9, 9);
  g.fillStyle = '#fff';
  g.fillRect(cx - 1.5, cy - 1.5, 3, 3);
};
const drawRedRing: Draw = (g, cx, cy) => {
  g.strokeStyle = RING_RED;
  g.lineWidth = 2.2;
  g.beginPath();
  g.arc(cx, cy, 7, 0, Math.PI * 2);
  g.stroke();
};
const drawDot: Draw = (g, cx, cy) => {
  g.fillStyle = GREEN;
  g.beginPath();
  g.arc(cx, cy, 2.6, 0, Math.PI * 2);
  g.fill();
};
const drawGreenRing: Draw = (g, cx, cy) => {
  g.strokeStyle = RING_GREEN;
  g.lineWidth = 1.1;
  g.beginPath();
  g.arc(cx, cy, 7.3, 0, Math.PI * 2);
  g.stroke();
};
const drawArrow: Draw = (g, cx, cy) => {
  g.strokeStyle = ARROW_GREEN;
  g.lineWidth = 1.1;
  g.beginPath();
  g.moveTo(cx, cy);
  g.lineTo(cx, cy + 16);
  g.moveTo(cx - 3.5, cy + 11.5);
  g.lineTo(cx, cy + 16.5);
  g.lineTo(cx + 3.5, cy + 11.5);
  g.stroke();
};

function getSprites() {
  if (sprites) return sprites;
  sprites = {
    hrs: makeSprite(21, 21, drawSquare),
    hrsRinged: makeSprite(21, 21, (g, cx, cy) => { drawRedRing(g, cx, cy); drawSquare(g, cx, cy); }),
    gass: makeSprite(9, 9, drawDot),
    gassRinged: makeSprite(19, 19, (g, cx, cy) => { drawGreenRing(g, cx, cy); drawDot(g, cx, cy); }),
    gassLimit: makeSprite(19, 41, (g, cx, cy) => { drawArrow(g, cx, cy); drawDot(g, cx, cy); }),
    gassRingedLimit: makeSprite(19, 41, (g, cx, cy) => { drawGreenRing(g, cx, cy); drawArrow(g, cx, cy); drawDot(g, cx, cy); }),
  };
  return sprites;
}

// ---------------- text helpers ----------------
interface Run { t: string; size: number; dy?: number; font?: string }

function runsWidth(ctx: CanvasRenderingContext2D, runs: Run[]) {
  let w = 0;
  for (const r of runs) {
    ctx.font = `${r.size}px ${r.font ?? FONT}`;
    w += ctx.measureText(r.t).width;
  }
  return w;
}

function drawRuns(ctx: CanvasRenderingContext2D, runs: Run[], cx: number, baseline: number) {
  let x = cx - runsWidth(ctx, runs) / 2;
  ctx.textAlign = 'left';
  ctx.textBaseline = 'alphabetic';
  for (const r of runs) {
    ctx.font = `${r.size}px ${r.font ?? FONT}`;
    ctx.fillText(r.t, x, baseline + (r.dy ?? 0));
    x += ctx.measureText(r.t).width;
  }
}

const MAJOR = 11;
const MINOR = 5.5;
// horizontal shift of the x tick numbers relative to their tick marks
const X_LABEL_SHIFT = 8.5;

function panelPlugin(p: Panel) {
  return {
    id: 'panelFrame',
    afterDatasetsDraw(chart: Chart) {
      const ctx = chart.ctx;
      const a = chart.chartArea;
      const xs = chart.scales.x;
      const ys = chart.scales.y;
      ctx.save();

      // inward major and minor ticks on all four sides
      ctx.strokeStyle = '#000';
      ctx.lineWidth = 2.2;
      ctx.beginPath();
      for (let i = Math.ceil(xs.min * 10 - 1e-6); i <= Math.floor(xs.max * 10 + 1e-6); i++) {
        const px = xs.getPixelForValue(i / 10);
        const len = i % 10 === 0 ? MAJOR : MINOR;
        ctx.moveTo(px, a.bottom); ctx.lineTo(px, a.bottom - len);
        ctx.moveTo(px, a.top); ctx.lineTo(px, a.top + len);
      }
      for (let i = Math.ceil(ys.min * 10 - 1e-6); i <= Math.floor(ys.max * 10 + 1e-6); i++) {
        const py = ys.getPixelForValue(i / 10);
        const len = i % 10 === 0 ? MAJOR : MINOR;
        ctx.moveTo(a.left, py); ctx.lineTo(a.left + len, py);
        ctx.moveTo(a.right, py); ctx.lineTo(a.right - len, py);
      }
      ctx.stroke();
      ctx.lineWidth = 3;
      ctx.strokeRect(a.left, a.top, a.right - a.left, a.bottom - a.top);

      // panel caption
      ctx.fillStyle = '#000';
      ctx.textAlign = 'left';
      ctx.textBaseline = 'alphabetic';
      ctx.font = `29px ${FONT}`;
      ctx.fillText(p.lines[0], a.left + 48, a.top + 60.5);
      ctx.fillText(p.lines[1], a.left + 48, a.top + 91.5);

      // tick labels
      ctx.font = `27px ${FONT}`;
      if (p.yLabels) {
        ctx.textAlign = 'right';
        for (const v of Y_TICK_LABELS) {
          ctx.fillText(String(v), a.left - 7, ys.getPixelForValue(v) + 10);
        }
      }
      if (p.xLabels) {
        ctx.textAlign = 'center';
        for (const v of X_TICK_LABELS) {
          ctx.fillText(String(v), xs.getPixelForValue(v) + X_LABEL_SHIFT, a.bottom + 54);
        }
      }

      // axis titles
      if (p.xTitle) {
        drawRuns(ctx, [
          { t: 'log M', size: 27 },
          { t: 'star', size: 15, dy: 4 },
          { t: ' [M', size: 27 },
          { t: '\u2609', size: 18, dy: 5, font: SYMBOL_FONT },
          { t: ']', size: 27 },
        ], xs.getPixelForValue(10) + 10, a.bottom + 89);
      }
      if (p.yTitle) {
        ctx.save();
        ctx.translate(37, (a.top + a.bottom) / 2 + 2);
        ctx.rotate(-Math.PI / 2);
        drawRuns(ctx, [
          { t: 'log M', size: 27 },
          { t: p.yTitle, size: 14, dy: 5 },
          { t: '[M', size: 27 },
          { t: '\u2609', size: 18, dy: 5, font: SYMBOL_FONT },
          { t: ']', size: 27 },
        ], 0, 0);
        ctx.restore();
      }

      // legend box
      if (p.legend) {
        const left = a.right - 188.3;
        const top = a.bottom - 131.3;
        const right = a.right - 14.3;
        const bottom = a.bottom - 23;
        ctx.fillStyle = '#fff';
        ctx.fillRect(left, top, right - left, bottom - top);
        ctx.strokeStyle = '#000';
        ctx.lineWidth = 1.5;
        ctx.strokeRect(left, top, right - left, bottom - top);
        ctx.font = `23px ${FONT}`;
        ctx.textAlign = 'right';
        const textRight = left + 99;
        const markX = left + 134;
        LEGEND_LABELS.forEach((lab, i) => {
          const base = top + 25 + i * 23.4;
          ctx.fillStyle = LEGEND_COLORS[i];
          ctx.fillText(lab, textRight, base);
        });
        const sp = getSprites();
        ctx.strokeStyle = '#000';
        ctx.lineWidth = 1.3;
        ctx.beginPath();
        ctx.moveTo(markX - 18, top + 17.6);
        ctx.lineTo(markX + 18, top + 17.6);
        ctx.stroke();
        ctx.drawImage(sp.hrs, markX - sp.hrs.width / 2, top + 41.6 - sp.hrs.height / 2);
        ctx.strokeStyle = BLUE;
        ctx.lineWidth = 3;
        ctx.beginPath();
        ctx.moveTo(markX - 5.5, top + 66); ctx.lineTo(markX + 5.5, top + 66);
        ctx.moveTo(markX, top + 60.5); ctx.lineTo(markX, top + 71.5);
        ctx.stroke();
        ctx.drawImage(sp.gass, markX - sp.gass.width / 2, top + 90 - sp.gass.height / 2);
      }
      ctx.restore();
    },
  };
}

function toXY(pts: Pt[]) {
  return pts.map(([x, y]) => ({ x, y }));
}

function PanelChart({ panel }: { panel: Panel }) {
  const ref = useRef<HTMLCanvasElement>(null);
  useEffect(() => {
    const sp = getSprites();
    const markerSet = (pts: Pt[], style: HTMLCanvasElement, order: number, label: string) => ({
      label,
      data: toXY(pts),
      pointStyle: style,
      pointRadius: 3,
      pointHoverRadius: 3,
      showLine: false,
      order,
    });
    const datasets: any[] = [
      markerSet(panel.hrsRinged, sp.hrsRinged, 0, 'HRS'),
      markerSet(panel.hrs, sp.hrs, 1, 'HRS'),
      markerSet(panel.gassRingedLimit, sp.gassRingedLimit, 2, 'xGASS'),
      markerSet(panel.gassLimit, sp.gassLimit, 3, 'xGASS'),
      markerSet(panel.gassRinged, sp.gassRinged, 4, 'xGASS'),
      markerSet(panel.gass, sp.gass, 5, 'xGASS'),
      ...panel.contours.map((c) => ({
        label: 'Model',
        data: toXY(c.pts),
        showLine: true,
        borderColor: '#000',
        borderWidth: c.thick ? 2.6 : 1.2,
        pointRadius: 0,
        fill: false,
        clip: 0,
        order: 10,
      })),
    ];
    const chart = new Chart(ref.current as HTMLCanvasElement, {
      type: 'scatter',
      data: { datasets },
      options: {
        responsive: false,
        animation: false,
        devicePixelRatio: 1,
        events: [],
        layout: { padding: panel.pad },
        scales: {
          x: { type: 'linear', min: panel.xRange[0], max: panel.xRange[1], display: false },
          y: { type: 'linear', min: Y_RANGE[0], max: Y_RANGE[1], display: false },
        },
        plugins: { legend: { display: false }, tooltip: { enabled: false } },
      },
      plugins: [panelPlugin(panel)],
    } as any);
    return () => chart.destroy();
  }, [panel]);
  return (
    <canvas
      ref={ref}
      width={1112}
      height={954}
      style={{ position: 'absolute', left: 0, top: 0, width: 1112, height: 954 }}
    />
  );
}

export default function App() {
  return (
    <div style={{ position: 'absolute', left: 0, top: 0, width: 1112, height: 954, background: '#fff', overflow: 'hidden' }}>
      {PANELS.map((p) => (
        <PanelChart key={p.key} panel={p} />
      ))}
    </div>
  );
}
